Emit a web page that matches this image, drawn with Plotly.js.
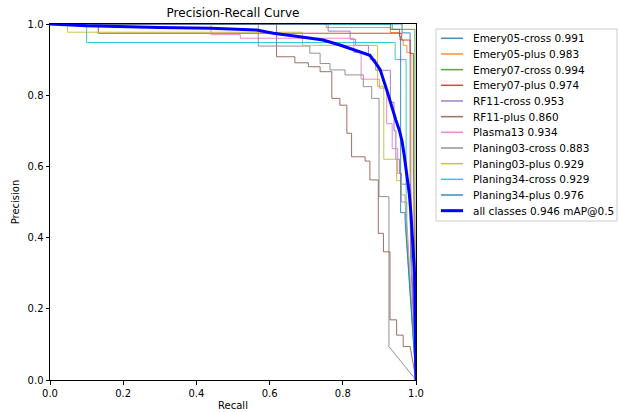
<!DOCTYPE html>
<html>
<head>
<meta charset="utf-8">
<script src="https://cdn.plot.ly/plotly-3.0.1.min.js"></script>
<style>html,body{margin:0;padding:0;background:#fff;}#chart{width:619px;height:412px;}</style>
</head>
<body>
<div id="chart"></div>
<script>
// Class names and AP values (legend)
const classNames = ["Emery05-cross","Emery05-plus","Emery07-cross","Emery07-plus","RF11-cross","RF11-plus","Plasma13","Planing03-cross","Planing03-plus","Planing34-cross","Planing34-plus"];
const apValues = [0.991, 0.983, 0.994, 0.974, 0.953, 0.860, 0.934, 0.883, 0.929, 0.929, 0.976];
const mAP = 0.946;
const classColors = ["#1f77b4","#ff7f0e","#2ca02c","#d62728","#9467bd","#8c564b","#e377c2","#7f7f7f","#bcbd22","#17becf","#1f77b4"];

// Step curves: at recall R[i] precision drops to P[i]; after the last entry the curve runs to (1, 0)
const emery05crossR = [0.962, 0.984];
const emery05crossP = [0.975, 0.45];
const emery05plusR = [0.755, 0.93, 0.956, 0.965, 0.975, 0.986];
const emery05plusP = [0.99, 0.976, 0.955, 0.94, 0.92, 0.55];
const emery07crossR = [0.935, 0.997];
const emery07crossP = [0.985, 0.5];
const emery07plusR = [0.132, 0.961, 0.984, 0.993];
const emery07plusP = [0.974, 0.955, 0.917, 0.6];
const rf11crossR = [0.76, 0.82, 0.835, 0.87, 0.875, 0.89, 0.93, 0.94, 0.945, 0.955, 0.96, 0.985];
const rf11crossP = [0.98, 0.957, 0.94, 0.91, 0.90, 0.87, 0.78, 0.70, 0.62, 0.58, 0.55, 0.35];
const rf11plusR = [0.619, 0.669, 0.706, 0.738, 0.77, 0.792, 0.811, 0.824, 0.861, 0.874, 0.897, 0.911, 0.929, 0.947, 0.965, 0.984];
const rf11plusP = [0.908, 0.891, 0.88, 0.866, 0.791, 0.772, 0.693, 0.627, 0.615, 0.562, 0.412, 0.36, 0.169, 0.126, 0.094, 0.094];
const plasma13R = [0.44, 0.52, 0.83, 0.85, 0.90, 0.92, 0.935, 0.95, 0.96, 0.975];
const plasma13P = [0.97, 0.96, 0.92, 0.845, 0.82, 0.72, 0.65, 0.58, 0.50, 0.45];
const planing03crossR = [0.569, 0.71, 0.738, 0.765, 0.806, 0.856, 0.879, 0.899, 0.926];
const planing03crossP = [0.938, 0.918, 0.889, 0.871, 0.857, 0.824, 0.791, 0.515, 0.094];
const planing03plusR = [0.048, 0.69, 0.895, 0.912, 0.947, 0.96, 0.97];
const planing03plusP = [0.977, 0.94, 0.825, 0.62, 0.56, 0.52, 0.50];
const planing34crossR = [0.10, 0.943, 0.973];
const planing34crossP = [0.948, 0.90, 0.42];
const planing34plusR = [0.93, 0.955, 0.958, 0.97];
const planing34plusP = [0.985, 0.965, 0.47, 0.45];

const classR = [emery05crossR, emery05plusR, emery07crossR, emery07plusR, rf11crossR, rf11plusR, plasma13R, planing03crossR, planing03plusR, planing34crossR, planing34plusR];
const classP = [emery05crossP, emery05plusP, emery07crossP, emery07plusP, rf11crossP, rf11plusP, plasma13P, planing03crossP, planing03plusP, planing34crossP, planing34plusP];

// All-classes mean curve
const allRecall = [0, 0.1, 0.3, 0.44, 0.565, 0.61, 0.683, 0.746, 0.792, 0.838, 0.874, 0.89, 0.902, 0.92, 0.935, 0.945, 0.955, 0.962, 0.968, 0.975, 0.982, 0.986, 0.99, 0.993, 0.996, 1.0];
const allPrecision = [1, 0.995, 0.99, 0.988, 0.983, 0.974, 0.964, 0.955, 0.941, 0.925, 0.912, 0.89, 0.872, 0.815, 0.76, 0.73, 0.70, 0.67, 0.63, 0.58, 0.52, 0.47, 0.40, 0.36, 0.30, 0];

function stepPath(R, P) {
  const x = [0], y = [1];
  let prev = 1;
  for (let i = 0; i < R.length; i++) {
    x.push(R[i]); y.push(prev);
    x.push(R[i]); y.push(P[i]);
    prev = P[i];
  }
  x.push(1); y.push(0);
  return {x, y};
}

const FONT = "DejaVu Sans, sans-serif";
const W = 619, H = 412;
const M = {l: 50, r: 203, t: 24, b: 32};
const PW = W - M.l - M.r, PH = H - M.t - M.b;
const px2x = px => (px - M.l) / PW;
const py2y = py => (H - M.b - py) / PH;

const traces = classNames.map((n, i) => {
  const p = stepPath(classR[i], classP[i]);
  return {
    x: p.x, y: p.y, type: "scatter", mode: "lines",
    name: n + " " + apValues[i].toFixed(3),
    line: {color: classColors[i], width: 1},
    opacity: 0.85
  };
});
traces.push({
  x: allRecall, y: allPrecision, type: "scatter", mode: "lines",
  name: "all classes " + mAP.toFixed(3) + " mAP@0.5",
  line: {color: "blue", width: 3}
});

// Custom legend (matplotlib-like spacing)
const shapes = [{
  type: "rect", xref: "paper", yref: "paper",
  x0: px2x(436), x1: px2x(617), y0: py2y(221), y1: py2y(29),
  line: {color: "#cccccc", width: 1}, fillcolor: "#ffffff", layer: "above"
}];
const annotations = [];
traces.forEach((t, i) => {
  const yy = py2y(38.3 + i * 15.67);
  shapes.push({
    type: "line", xref: "paper", yref: "paper",
    x0: px2x(441), x1: px2x(463), y0: yy, y1: yy,
    line: {color: t.line.color, width: t.line.width === 3 ? 3 : 1.5},
    opacity: t.opacity || 1, layer: "above"
  });
  annotations.push({
    xref: "paper", yref: "paper", x: px2x(470.5), y: yy,
    xanchor: "left", yanchor: "middle", showarrow: false,
    text: t.name, font: {family: FONT, size: 10.5, color: "#000"}
  });
});

const axisCommon = {
  range: [0, 1], showgrid: false, zeroline: false,
  showline: true, linecolor: "#000", linewidth: 1, mirror: true,
  ticks: "outside", ticklen: 3.5, tickcolor: "#000", tickwidth: 1,
  dtick: 0.2, tick0: 0, tickformat: ".1f",
  tickfont: {family: FONT, size: 10, color: "#000"}
};

const layout = {
  width: W, height: H,
  margin: Object.assign({}, M, {autoexpand: false}),
  paper_bgcolor: "#fff", plot_bgcolor: "#fff",
  title: {text: "Precision-Recall Curve", font: {family: FONT, size: 12, color: "#000"}, xref: "paper", x: 0.5, xanchor: "center", y: 0.97, yanchor: "middle"},
  xaxis: Object.assign({}, axisCommon, {title: {text: "Recall", font: {family: FONT, size: 10, color: "#000"}, standoff: 4}}),
  yaxis: Object.assign({}, axisCommon, {title: {text: "Precision", font: {family: FONT, size: 10, color: "#000"}, standoff: 6}}),
  showlegend: false,
  shapes: shapes,
  annotations: annotations
};

Plotly.newPlot("chart", traces, layout, {displayModeBar: false, staticPlot: true});
</script>
</body>
</html>
